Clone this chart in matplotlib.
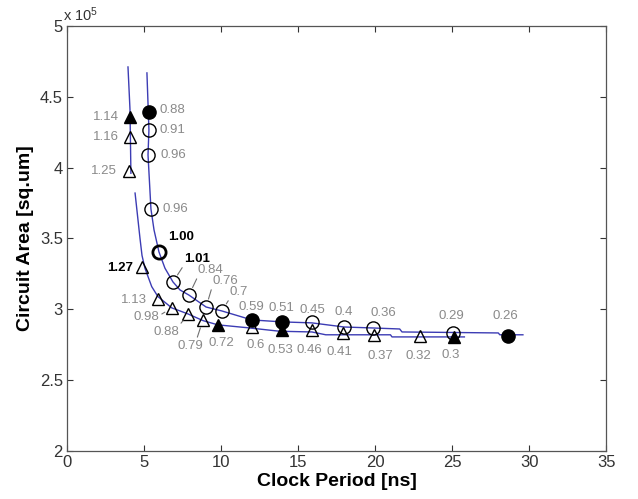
import numpy as np
import matplotlib
matplotlib.use("Agg")
import matplotlib.pyplot as plt

plt.rcParams['font.family'] = ['Liberation Sans', 'DejaVu Sans']
plt.rcParams['mathtext.default'] = 'regular'

# Design points: clock period [ns], circuit area [x 1e5 sq.um], annotated value
tri_x = [4.09, 4.09, 4.03, 4.87, 5.9, 6.82, 7.86, 8.83, 9.8, 12.0, 13.96, 15.9, 17.9, 19.9, 22.9, 25.1]
tri_y = [4.358, 4.217, 3.977, 3.30, 3.07, 3.01, 2.967, 2.925, 2.89, 2.875, 2.854, 2.854, 2.833, 2.82, 2.81, 2.805]
tri_lab = ["1.14", "1.16", "1.25", "1.27", "1.13", "0.98", "0.88", "0.79", "0.72", "0.6",
           "0.53", "0.46", "0.41", "0.37", "0.32", "0.3"]
tri_filled = [True, False, False, False, False, False, False, False, True, False,
              True, False, False, False, False, True]

cir_x = [5.32, 5.32, 5.26, 5.45, 5.97, 6.88, 7.92, 9.03, 10.06, 12.0, 13.96, 15.9, 17.99, 19.87, 25.06, 28.6]
cir_y = [4.393, 4.266, 4.09, 3.708, 3.405, 3.193, 3.10, 3.016, 2.988, 2.925, 2.911, 2.911, 2.875, 2.868, 2.833, 2.812]
cir_lab = ["0.88", "0.91", "0.96", "0.96", "1.00", "1.01", "0.84", "0.76", "0.7", "0.59",
           "0.51", "0.45", "0.4", "0.36", "0.29", "0.26"]
cir_filled = [True, False, False, False, False, False, False, False, False, True,
              True, False, False, False, False, True]

# Trade-off curves
tri_curve_x = [3.96, 4.09, 4.15, np.nan, 4.42, 4.74, 4.87, 5.06, 5.5, 5.9, 6.8, 7.86, 8.83, 9.8,
               11.7, 13.8, 15.9, 16.8, 21.0, 21.1, 25.8]
tri_curve_y = [4.71, 4.41, 3.96, np.nan, 3.82, 3.50, 3.38, 3.29, 3.16, 3.09, 3.01, 2.967, 2.92, 2.89,
               2.87, 2.845, 2.84, 2.82, 2.82, 2.805, 2.805]
cir_curve_x = [5.19, 5.32, 5.26, 5.45, 5.65, 5.97, 6.36, 6.88, 7.34, 7.92, 9.03, 10.06, 12.0, 13.96,
               15.9, 17.99, 19.87, 21.6, 21.75, 28.0, 28.1, 29.6]
cir_curve_y = [4.668, 4.266, 4.09, 3.708, 3.56, 3.405, 3.29, 3.193, 3.136, 3.10, 3.016, 2.988, 2.925,
               2.911, 2.904, 2.875, 2.868, 2.861, 2.84, 2.833, 2.82, 2.82]

x_ticks = [0, 5, 10, 15, 20, 25, 30, 35]
y_ticks = [2, 2.5, 3, 3.5, 4, 4.5, 5]
y_tick_labels = ["2", "2.5", "3", "3.5", "4", "4.5", "5"]

# label placement: (ha, dx, dy) in pixels, dy measured downward; leader = relpos or None
tri_place = [("right", -11, 0, None), ("right", -11, 0, None), ("right", -12, 0, None),
             ("right", -9, 1, None), ("right", -11, 1, None), ("right", -13, 9, (1, 0.6)),
             ("center", -22, 18, (1, 1)), ("center", -13, 26, (0.75, 1)), ("center", 3, 18, None),
             ("center", 4, 18, None), ("center", -2, 20, None), ("center", -3, 20, None),
             ("center", -3, 19, None), ("center", 7, 21, None), ("center", -1, 20, None),
             ("center", -3, 18, None)]
cir_place = [("left", 11, -2, None), ("left", 11, 0, None), ("left", 12, 0, None),
             ("left", 12, 0, None), ("left", 9, -15, None), ("left", 11, -23, (0, 0)),
             ("left", 9, -25, (0, 0)), ("left", 6, -26, (0, 0)), ("left", 8, -19, (0, 0)),
             ("center", 0, -13, None), ("center", -1, -14, None), ("center", 0, -12, None),
             ("center", 0, -15, None), ("center", 10, -15, None), ("center", -2, -17, None),
             ("center", -2, -20, None)]
bold_labels = {("tri", "1.27"), ("cir", "1.00"), ("cir", "1.01")}

fig = plt.figure(figsize=(6.38, 4.99), dpi=100)
ax = fig.add_axes([0.105, 0.0962, 0.845, 0.852])

line_col = '#3c3cb4'
ax.plot(tri_curve_x, tri_curve_y, color=line_col, lw=1.0, zorder=2)
ax.plot(cir_curve_x, cir_curve_y, color=line_col, lw=1.0, zorder=2)

lab_gray = '#8a8a8a'


def draw_series(xs, ys, labs, filled, place, marker, ms, kind):
    for x, y, lab, f, (ha, dx, dy, rel) in zip(xs, ys, labs, filled, place):
        bold = (kind, lab) in bold_labels
        ew = 2.0 if (kind == "cir" and lab == "1.00") else 1.0
        ax.plot(x, y, marker=marker, ms=ms, mec='black', mew=ew,
                mfc='black' if f else 'none', ls='none', zorder=4)
        kw = dict(xy=(x, y), xytext=(dx, -dy), textcoords='offset pixels',
                  ha=ha, va='center', fontsize=9.5,
                  color='black' if bold else lab_gray,
                  fontweight='bold' if bold else 'normal', zorder=5)
        if rel is not None:
            kw['arrowprops'] = dict(arrowstyle='-', color='#707070', lw=0.8,
                                    shrinkA=0, shrinkB=6, relpos=rel)
        ax.annotate(lab, **kw)


draw_series(tri_x, tri_y, tri_lab, tri_filled, tri_place, '^', 8.5, "tri")
draw_series(cir_x, cir_y, cir_lab, cir_filled, cir_place, 'o', 9.5, "cir")

ax.set_xlim(0, 35)
ax.set_ylim(2, 5)
ax.set_xticks(x_ticks)
ax.set_xticklabels([str(t) for t in x_ticks])
ax.set_yticks(y_ticks)
ax.set_yticklabels(y_tick_labels)
ax.tick_params(direction='in', top=True, right=True, length=4, width=0.8,
               labelsize=12, colors='#333333', labelcolor='#333333', pad=3)
for s in ax.spines.values():
    s.set_color('#555555')
    s.set_linewidth(0.9)

ax.set_xlabel('Clock Period [ns]', fontsize=14, fontweight='bold', labelpad=2)
ax.set_ylabel('Circuit Area [sq.um]', fontsize=14, fontweight='bold', labelpad=4)
ax.text(-0.008, 1.005, r'x 10$^5$', transform=ax.transAxes, ha='left', va='bottom',
        fontsize=10.5, color='#333333')

fig.savefig('out.png', dpi=100)
